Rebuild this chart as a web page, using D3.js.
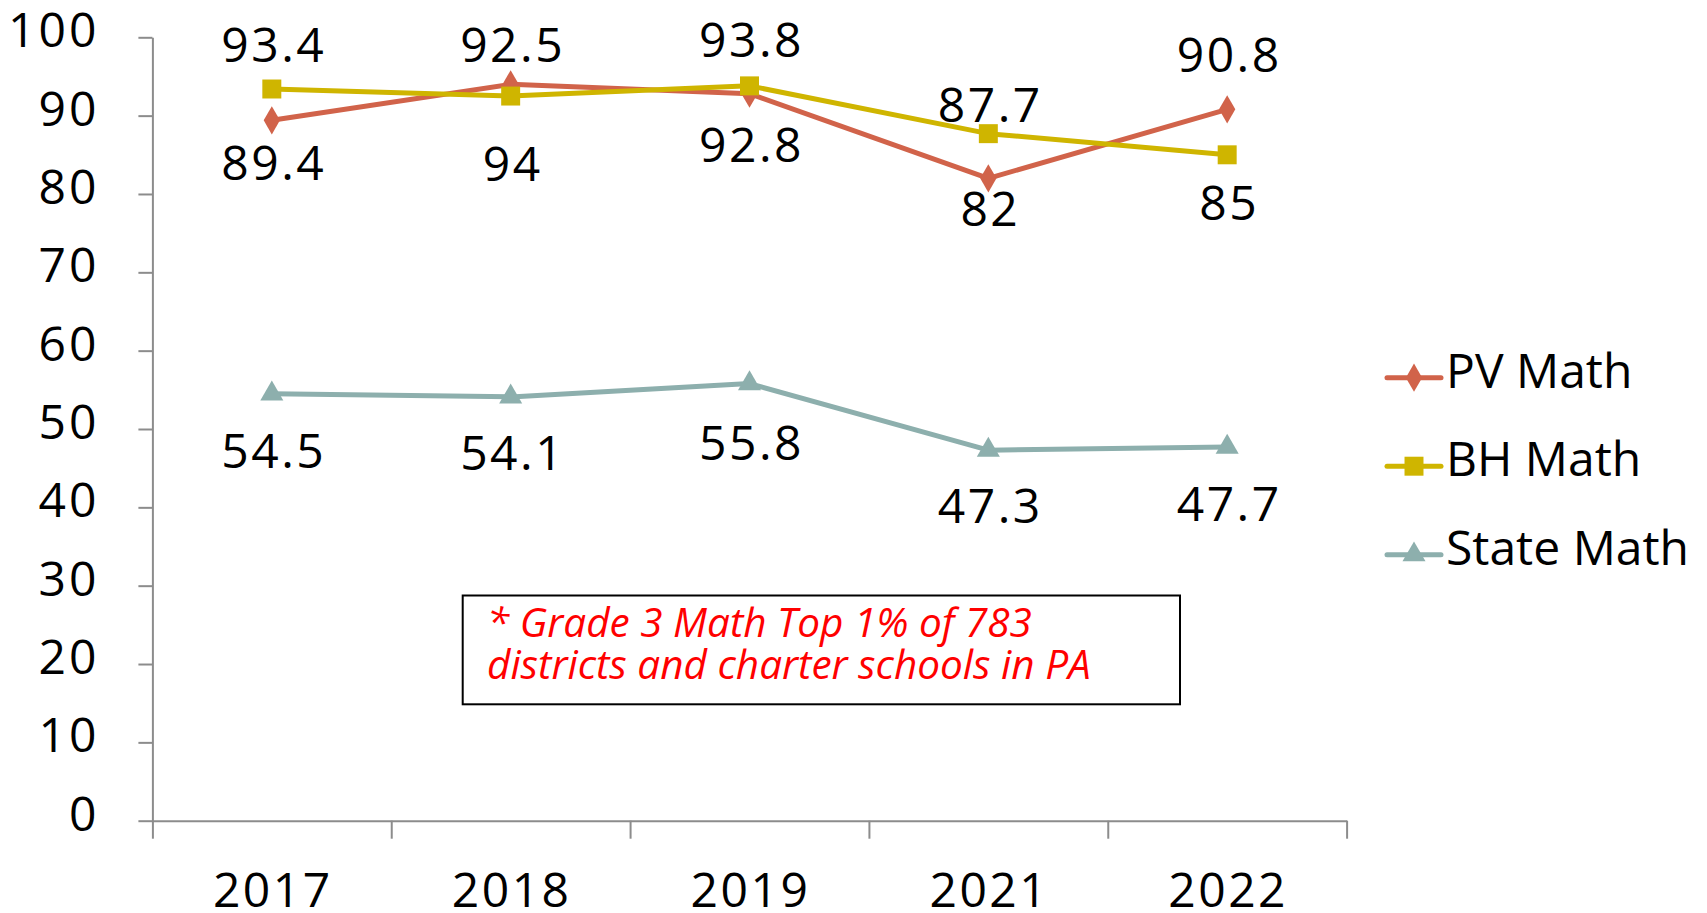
<!DOCTYPE html>
<html>
<head>
<meta charset="utf-8">
<script src="https://cdn.jsdelivr.net/npm/d3@7"></script>
<style>
  body { margin: 0; background: #ffffff; }
  svg { display: block; font-family: "Open Sans", sans-serif; }
</style>
</head>
<body>
<div class="grafico"></div>
<script>
// data
var years = ['2017', '2018', '2019', '2021', '2022'];
var pvMath = [89.4, 94, 92.8, 82, 90.8];
var bhMath = [93.4, 92.5, 93.8, 87.7, 85];
var stateMath = [54.5, 54.1, 55.8, 47.3, 47.7];
var yTicks = [0, 10, 20, 30, 40, 50, 60, 70, 80, 90, 100];
var nota = ['* Grade 3 Math Top 1% of 783', 'districts and charter schools in PA'];

// label placement (px from the point, baseline)
var pvDy = [60, 97, 68, 48, -37];
var bhDy = [-27, -34, -29, -12, 65];
var stateDy = [74, 73, 76, 73, 74];

var series = [
  { name: 'PV Math', values: pvMath, color: '#d1634a', shape: d3.symbolDiamond, dy: pvDy },
  { name: 'BH Math', values: bhMath, color: '#cfb500', shape: d3.symbolSquare, dy: bhDy },
  { name: 'State Math', values: stateMath, color: '#8dafad', shape: d3.symbolTriangle, dy: stateDy }
];

var contenedor = d3
  .select('.grafico')
  .append('svg')
  .attr('width', 1707)
  .attr('height', 913);

var xScale = d3.scaleBand()
  .domain(years)
  .range([152.4, 1346.6]);

var xLimites = d3.scaleLinear()
  .domain([0, years.length])
  .range([152.4, 1346.6]);

var yScale = d3.scaleLinear()
  .domain([0, 100])
  .range([820.7, 37.3]);

// y axis
var yAxis = d3.axisLeft(yScale)
  .tickValues(yTicks)
  .tickSize(14)
  .tickPadding(39)
  .tickSizeOuter(0);

var gy = contenedor.append('g')
  .attr('transform', 'translate(152.4,0)')
  .call(yAxis);

gy.selectAll('line, path').attr('stroke', '#8c8c8c').attr('stroke-width', 2);
gy.selectAll('text')
  .attr('dy', '0.2em')
  .attr('font-size', 48)
  .attr('letter-spacing', 3)
  .attr('fill', '#000')
  .attr('font-family', '"Open Sans", sans-serif');

// x axis: ticks on category boundaries
var xAxis = d3.axisBottom(xLimites)
  .tickValues(d3.range(years.length + 1))
  .tickFormat('')
  .tickSize(18)
  .tickSizeOuter(0);

var gx = contenedor.append('g')
  .attr('transform', 'translate(0,820.7)')
  .call(xAxis);

gx.selectAll('line, path').attr('stroke', '#8c8c8c').attr('stroke-width', 2);

contenedor.append('g')
  .selectAll('text')
  .data(years)
  .enter()
  .append('text')
  .attr('x', function (d) { return xScale(d) + xScale.bandwidth() / 2 + 1; })
  .attr('y', 906.8)
  .attr('text-anchor', 'middle')
  .attr('font-size', 48)
  .attr('letter-spacing', 2.5)
  .text(function (d) { return d; });

// annotation box
contenedor.append('rect')
  .attr('x', 462.7)
  .attr('y', 595.5)
  .attr('width', 717.3)
  .attr('height', 108.8)
  .attr('fill', '#ffffff')
  .attr('stroke', '#000000')
  .attr('stroke-width', 2);

contenedor.append('g')
  .selectAll('text')
  .data(nota)
  .enter()
  .append('text')
  .attr('x', 487)
  .attr('y', function (d, i) { return 637 + i * 42; })
  .attr('fill', '#ff0000')
  .attr('font-size', 40.5)
  .attr('font-style', 'italic')
  .text(function (d) { return d; });

// lines, markers and labels
var cx = function (i) { return xScale(years[i]) + xScale.bandwidth() / 2; };

var linea = d3.line()
  .x(function (d, i) { return cx(i); })
  .y(function (d) { return yScale(d); });

series.forEach(function (s) {
  var g = contenedor.append('g');

  g.append('path')
    .attr('d', linea(s.values))
    .attr('fill', 'none')
    .attr('stroke', s.color)
    .attr('stroke-width', 5)
    .attr('stroke-linejoin', 'round');

  g.selectAll('.punto')
    .data(s.values)
    .enter()
    .append('path')
    .attr('class', 'punto')
    .attr('d', d3.symbol().type(s.shape).size(s.shape === d3.symbolSquare ? 360 : 230))
    .attr('transform', function (d, i) { return 'translate(' + cx(i) + ',' + yScale(d) + ')'; })
    .attr('fill', s.color);

  g.selectAll('.etiqueta')
    .data(s.values)
    .enter()
    .append('text')
    .attr('class', 'etiqueta')
    .attr('x', function (d, i) { return cx(i) + 2; })
    .attr('y', function (d, i) { return yScale(d) + s.dy[i]; })
    .attr('text-anchor', 'middle')
    .attr('font-size', 48)
    .attr('letter-spacing', 2.5)
    .text(function (d) { return d; });
});

// legend
var leyenda = contenedor.append('g')
  .selectAll('g')
  .data(series)
  .enter()
  .append('g')
  .attr('transform', function (d, i) { return 'translate(1387,' + (377.7 + i * 88.5) + ')'; });

leyenda.append('line')
  .attr('x1', 0)
  .attr('x2', 54)
  .attr('stroke', function (d) { return d.color; })
  .attr('stroke-width', 5)
  .attr('stroke-linecap', 'round');

leyenda.append('path')
  .attr('d', function (d) {
    return d3.symbol().type(d.shape).size(d.shape === d3.symbolSquare ? 360 : 230)();
  })
  .attr('transform', 'translate(27,0)')
  .attr('fill', function (d) { return d.color; });

leyenda.append('text')
  .attr('x', 59)
  .attr('y', 10)
  .attr('font-size', 48)
  .text(function (d) { return d.name; });
</script>
</body>
</html>
